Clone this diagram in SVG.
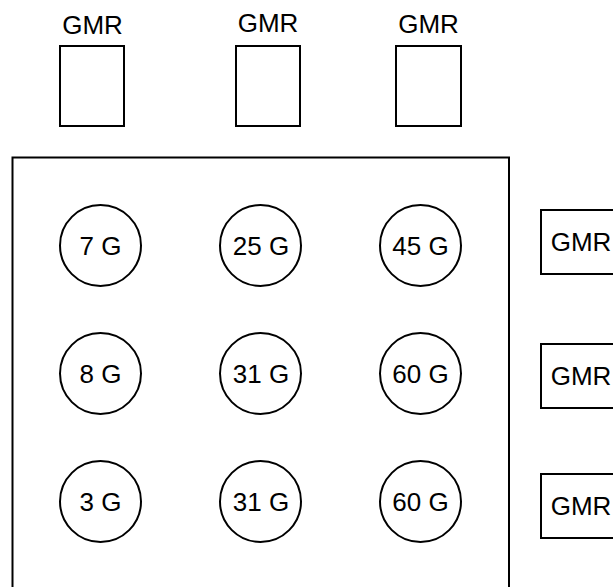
<svg xmlns="http://www.w3.org/2000/svg" width="613" height="587" viewBox="0 0 613 587">
<style>
.sh{fill:#fff;stroke:#000;stroke-width:2}
.t{font-family:"Liberation Sans",Arial,sans-serif;font-size:26px;fill:#000;text-anchor:middle}
</style>
<rect width="613" height="587" fill="#fff"/>
<g id="container"><rect class="sh" x="12.5" y="157.5" width="496.5" height="440"/></g>
<g id="gmr-top-1"><text class="t" x="92.5" y="34">GMR</text><rect class="sh" x="60" y="46" width="64" height="80"/></g>
<g id="gmr-top-2"><text class="t" x="268" y="32">GMR</text><rect class="sh" x="236" y="46" width="64" height="80"/></g>
<g id="gmr-top-3"><text class="t" x="428.5" y="33">GMR</text><rect class="sh" x="396" y="46" width="65" height="80"/></g>
<g id="n-7G"><circle class="sh" cx="100.5" cy="245.5" r="40.5"/><text class="t" x="100.5" y="254.5">7 G</text></g>
<g id="n-25G"><circle class="sh" cx="260.5" cy="245.5" r="40.5"/><text class="t" x="261" y="254.5">25 G</text></g>
<g id="n-45G"><circle class="sh" cx="420.5" cy="245.5" r="40.5"/><text class="t" x="420.5" y="254.5">45 G</text></g>
<g id="n-8G"><circle class="sh" cx="100.5" cy="373.5" r="40.5"/><text class="t" x="100.5" y="382.5">8 G</text></g>
<g id="n-31G-a"><circle class="sh" cx="260.5" cy="373.5" r="40.5"/><text class="t" x="261" y="382.5">31 G</text></g>
<g id="n-60G-a"><circle class="sh" cx="420.5" cy="373.5" r="40.5"/><text class="t" x="420.5" y="382.5">60 G</text></g>
<g id="n-3G"><circle class="sh" cx="100.5" cy="501.5" r="40.5"/><text class="t" x="100.5" y="510.5">3 G</text></g>
<g id="n-31G-b"><circle class="sh" cx="260.5" cy="501.5" r="40.5"/><text class="t" x="261" y="510.5">31 G</text></g>
<g id="n-60G-b"><circle class="sh" cx="420.5" cy="501.5" r="40.5"/><text class="t" x="420.5" y="510.5">60 G</text></g>
<g id="gmr-right-1"><rect class="sh" x="541" y="210" width="80" height="64"/><text class="t" x="581" y="250.5">GMR</text></g>
<g id="gmr-right-2"><rect class="sh" x="541" y="344" width="80" height="64"/><text class="t" x="581" y="384.5">GMR</text></g>
<g id="gmr-right-3"><rect class="sh" x="541" y="474" width="80" height="64"/><text class="t" x="581" y="514.5">GMR</text></g>
<g id="connectors"></g>
</svg>
